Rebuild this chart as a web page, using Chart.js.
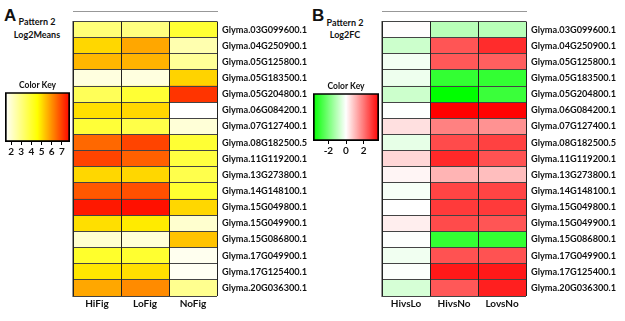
<!DOCTYPE html>
<html>
<head>
<meta charset="utf-8">
<script src="https://cdn.jsdelivr.net/npm/chart.js@4/dist/chart.umd.min.js"></script>
<style>
body{margin:0;background:#fff;width:625px;height:321px;position:relative;overflow:hidden;font-family:Lato,"Open Sans",sans-serif;font-weight:bold;color:#111}
canvas{position:absolute}
.txt{position:absolute;font-size:9px;text-align:center;width:70px;line-height:12px}
.big{position:absolute;font:bold 17px "Liberation Sans",Arial,sans-serif}
</style>
</head>
<body>
<div class="big" style="left:4px;top:6px">A</div>
<div class="txt" style="left:2px;top:16px">Pattern 2</div>
<div class="txt" style="left:2px;top:29px">Log2Means</div>
<div class="big" style="left:312px;top:6px">B</div>
<div class="txt" style="left:310px;top:17px">Pattern 2</div>
<div class="txt" style="left:310px;top:29px">Log2FC</div>

<canvas id="keyA" width="76" height="79" style="left:0px;top:79px"></canvas>
<canvas id="heatA" width="248" height="303" style="left:72px;top:11px"></canvas>
<canvas id="keyB" width="78" height="77" style="left:307px;top:80px"></canvas>
<canvas id="heatB" width="244" height="303" style="left:381px;top:11px"></canvas>

<script>
var genes = ["Glyma.03G099600.1","Glyma.04G250900.1","Glyma.05G125800.1","Glyma.05G183500.1","Glyma.05G204800.1",
    "Glyma.06G084200.1","Glyma.07G127400.1","Glyma.08G182500.5","Glyma.11G119200.1","Glyma.13G273800.1",
    "Glyma.14G148100.1","Glyma.15G049800.1","Glyma.15G049900.1","Glyma.15G086800.1","Glyma.17G049900.1",
    "Glyma.17G125400.1","Glyma.20G036300.1"]

// panel A - log2 means
var meansCols = ["HiFig","LoFig","NoFig"]
var hiFig = [3.1,5.1,5.5,1.8,3.5,5.0,3.9,6.5,6.95,5.1,6.7,7.5,5.0,2.0,4.05,4.9,5.7]
var loFig = [3.0,5.7,5.55,1.8,3.95,5.1,3.7,6.95,6.6,5.1,6.8,7.6,4.85,1.9,4.0,5.0,6.05]
var noFig = [3.95,2.4,2.7,5.15,7.15,1.4,1.9,3.95,3.8,3.65,4.0,5.1,2.0,5.35,1.6,1.55,2.8]
var meansRange = [1.4,7.8]
var meansTicks = [2,3,4,5,6,7]

// panel B - log2 fold change
var fcCols = ["HivsLo","HivsNo","LovsNo"]
var hivsLo = [0.03,-0.75,-0.18,-0.25,-0.75,-0.03,0.45,-0.35,0.6,0.15,-0.12,0.0,0.25,-0.03,-0.2,-0.05,-0.6]
var hivsNo = [-1.05,2.5,2.45,-3.0,-3.75,3.75,1.85,2.65,3.15,1.1,2.75,2.9,2.65,-3.0,2.55,3.4,2.45]
var lovsNo = [-1.05,3.1,2.35,-3.0,-2.9,3.7,1.6,2.8,2.55,0.95,2.75,2.9,2.5,-3.0,2.55,3.4,3.3]
var fcRange = [-3.75,3.75]
var fcTicks = [-2,0,2]

var tickFont = {family:"Lato",size:10,weight:"bold"}

function mix(c1,c2,t){
    return "rgb("+c1.map((v,i)=>Math.round(v+(c2[i]-v)*t)).join(",")+")"
}
// white -> yellow -> red
function meansColor(v){
    let t = (v-meansRange[0])/(meansRange[1]-meansRange[0])
    t = Math.max(0,Math.min(1,t))
    if(t<0.5) return mix([255,255,255],[255,255,0],t*2)
    return mix([255,255,0],[255,0,0],(t-0.5)*2)
}
// green -> white -> red
function fcColor(v){
    let t = v/fcRange[1]
    if(t<0) return mix([255,255,255],[0,255,0],Math.min(1,-t))
    return mix([255,255,255],[255,0,0],Math.min(1,t))
}

function heatmap(id, cols, series, colorFn, labelWidth){
    // one stacked dataset per column, each cell a bar of length 1
    let datasets = series.map((vals,i)=>({
        label: cols[i],
        data: vals.map(()=>1),
        backgroundColor: vals.map(colorFn),
        borderWidth: 0,
        barPercentage: 1,
        categoryPercentage: 1
    }))
    new Chart(document.getElementById(id), {
        type: "bar",
        data: {labels: genes, datasets: datasets},
        options: {
            indexAxis: "y",
            responsive: false,
            animation: false,
            layout: {padding: {left:1, top:1, right:0, bottom:0}},
            plugins: {legend:{display:false}, tooltip:{enabled:false}},
            scales: {
                x: {stacked:true, min:0, max:cols.length, display:false},
                y: {
                    stacked: true,
                    position: "right",
                    grid: {offset:true, z:1, color:"#444", drawTicks:false},
                    border: {color:"#333"},
                    ticks: {padding:5, color:"#111", autoSkip:false, font:{family:"Lato",size:9.2,weight:"bold"}},
                    afterFit: function(s){ s.width = labelWidth }
                },
                cx: {
                    axis: "x",
                    type: "category",
                    labels: cols,
                    position: "bottom",
                    offset: true,
                    grid: {offset:true, z:1, color:"#222", drawTicks:false},
                    border: {color:"#333"},
                    ticks: {padding:2, color:"#111", font:{family:"Lato",size:10,weight:"bold"}},
                    afterFit: function(s){ s.height = 18 }
                }
            }
        }
    })
}

function colorKey(id, range, ticks, colorFn, pad){
    new Chart(document.getElementById(id), {
        type: "bar",
        data: {labels: ["key"], datasets: [{
            data: [range],
            borderColor: "#000",
            borderWidth: 2,
            borderSkipped: false,
            barPercentage: 1,
            categoryPercentage: 1,
            backgroundColor: function(c){
                let a = c.chart.chartArea
                if(!a) return "#fff"
                let g = c.chart.ctx.createLinearGradient(a.left,0,a.right,0)
                for(let i=0;i<=40;i++){
                    g.addColorStop(i/40, colorFn(range[0]+(range[1]-range[0])*i/40))
                }
                return g
            }
        }]},
        options: {
            indexAxis: "y",
            responsive: false,
            animation: false,
            layout: {padding: {left:pad[0], right:pad[1], top:0, bottom:0}},
            plugins: {
                legend: {display:false},
                tooltip: {enabled:false},
                title: {display:true, text:"Color Key", color:"#111", font:{family:"Lato",size:8.5,weight:"bold"}, padding:{top:1,bottom:2}}
            },
            scales: {
                x: {
                    min: range[0], max: range[1],
                    afterBuildTicks: function(s){ s.ticks = ticks.map(v=>({value:v})) },
                    grid: {drawOnChartArea:false, tickLength:3, color:"#000"},
                    border: {display:false},
                    ticks: {padding:1, color:"#111", font:tickFont, maxRotation:0, minRotation:0, autoSkip:false},
                    afterFit: function(s){ s.height = 16 }
                },
                y: {
                    display: true,
                    grid: {display:false},
                    border: {display:false},
                    ticks: {display:false},
                    afterFit: function(s){ s.width = 0 }
                }
            }
        }
    })
}

heatmap("heatA", meansCols, [hiFig,loFig,noFig], meansColor, 103)
heatmap("heatB", fcCols, [hivsLo,hivsNo,lovsNo], fcColor, 99)
colorKey("keyA", meansRange, meansTicks, meansColor, [5,6])
colorKey("keyB", fcRange, fcTicks, fcColor, [6,6])
</script>
</body>
</html>
